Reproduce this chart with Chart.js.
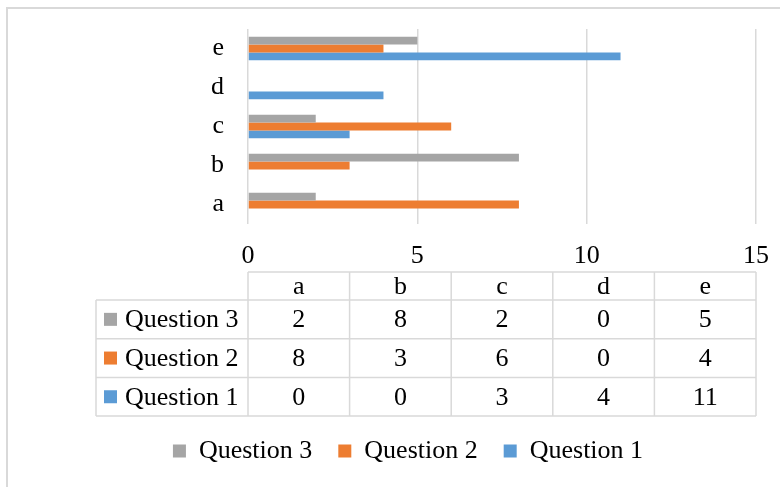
<!DOCTYPE html>
<html>
<head>
<meta charset="utf-8">
<script src="https://cdn.jsdelivr.net/npm/chart.js@4/dist/chart.umd.min.js"></script>
<style>
  html, body { margin: 0; padding: 0; background: #fff; }
  canvas { display: block; }
</style>
</head>
<body>
<canvas id="chart" width="780" height="487"></canvas>
<script>
const categories = ['a', 'b', 'c', 'd', 'e'];
const question1 = [0, 0, 3, 4, 11];
const question2 = [8, 3, 6, 0, 4];
const question3 = [2, 8, 2, 0, 5];
const xMax = 15;
const xStep = 5;

const FONT = '"Liberation Serif", "Times New Roman", serif';
const LINE = '#d9d9d9';

// light frame around the whole chart
const framePlugin = {
  id: 'frame',
  beforeDraw(chart) {
    const ctx = chart.ctx;
    ctx.save();
    ctx.fillStyle = '#fff';
    ctx.fillRect(0, 0, chart.width, chart.height);
    ctx.strokeStyle = LINE;
    ctx.lineWidth = 2;
    ctx.strokeRect(7, 8, chart.width + 10, chart.height + 10);
    ctx.restore();
  }
};

// data table under the value axis, columns follow the plot area
const tablePlugin = {
  id: 'dataTable',
  afterDraw(chart) {
    const { ctx, chartArea } = chart;
    const labels = chart.data.labels;
    const sets = chart.data.datasets;
    const colW = (chartArea.right - chartArea.left) / labels.length;
    const top = chartArea.bottom + 48;
    const headH = 28;
    const rowH = 38.7;
    const left = 96;
    const bodyTop = top + headH;
    const bottom = bodyTop + rowH * sets.length;

    ctx.save();
    ctx.strokeStyle = LINE;
    ctx.lineWidth = 1.5;
    ctx.beginPath();
    ctx.moveTo(chartArea.left, top);
    ctx.lineTo(chartArea.right, top);
    for (let r = 0; r <= sets.length; r++) {
      const y = bodyTop + r * rowH;
      ctx.moveTo(left, y);
      ctx.lineTo(chartArea.right, y);
    }
    ctx.moveTo(left, bodyTop);
    ctx.lineTo(left, bottom);
    for (let c = 0; c <= labels.length; c++) {
      const x = chartArea.left + c * colW;
      ctx.moveTo(x, top);
      ctx.lineTo(x, bottom);
    }
    ctx.stroke();

    ctx.fillStyle = '#000';
    ctx.font = '26px ' + FONT;
    ctx.textAlign = 'center';
    ctx.textBaseline = 'middle';
    labels.forEach((lab, c) => {
      ctx.fillText(lab, chartArea.left + (c + 0.5) * colW, top + headH / 2 + 1);
    });
    sets.forEach((ds, r) => {
      const cy = bodyTop + (r + 0.5) * rowH + 1;
      ds.data.forEach((v, c) => {
        ctx.fillText(String(v), chartArea.left + (c + 0.5) * colW, cy);
      });
    });

    ctx.textAlign = 'left';
    sets.forEach((ds, r) => {
      const cy = bodyTop + (r + 0.5) * rowH;
      ctx.fillStyle = ds.backgroundColor;
      ctx.fillRect(104, cy - 6.5, 13, 13);
      ctx.fillStyle = '#000';
      ctx.fillText(ds.label, 125, cy + 1);
    });
    ctx.restore();
  }
};

new Chart(document.getElementById('chart'), {
  type: 'bar',
  data: {
    labels: categories,
    datasets: [
      { label: 'Question 3', data: question3, backgroundColor: '#a5a5a5' },
      { label: 'Question 2', data: question2, backgroundColor: '#ed7d31' },
      { label: 'Question 1', data: question1, backgroundColor: '#5b9bd5' }
    ]
  },
  options: {
    indexAxis: 'y',
    responsive: false,
    devicePixelRatio: 1,
    animation: false,
    categoryPercentage: 0.6,
    barPercentage: 1,
    layout: { padding: { top: 29, left: 60, right: 24, bottom: 13 } },
    scales: {
      x: {
        min: 0,
        max: xMax,
        ticks: { stepSize: xStep, padding: 17, color: '#000', font: { family: FONT, size: 26 } },
        grid: { color: LINE, lineWidth: 1.5, drawTicks: false },
        border: { display: false },
        afterFit(scale) {
          scale.height = 188;
          scale.paddingLeft = 0;
          scale.paddingRight = 0;
        }
      },
      y: {
        reverse: true,
        ticks: { padding: 24, color: '#000', font: { family: FONT, size: 26 } },
        grid: { display: false, drawTicks: false },
        border: { display: false },
        afterFit(scale) {
          scale.width = 188;
          scale.paddingTop = 0;
          scale.paddingBottom = 0;
        }
      }
    },
    plugins: {
      legend: {
        position: 'bottom',
        labels: {
          boxWidth: 13,
          boxHeight: 13,
          padding: 26,
          color: '#000',
          font: { family: FONT, size: 26 }
        }
      },
      tooltip: { enabled: false }
    }
  },
  plugins: [framePlugin, tablePlugin]
});
</script>
</body>
</html>
